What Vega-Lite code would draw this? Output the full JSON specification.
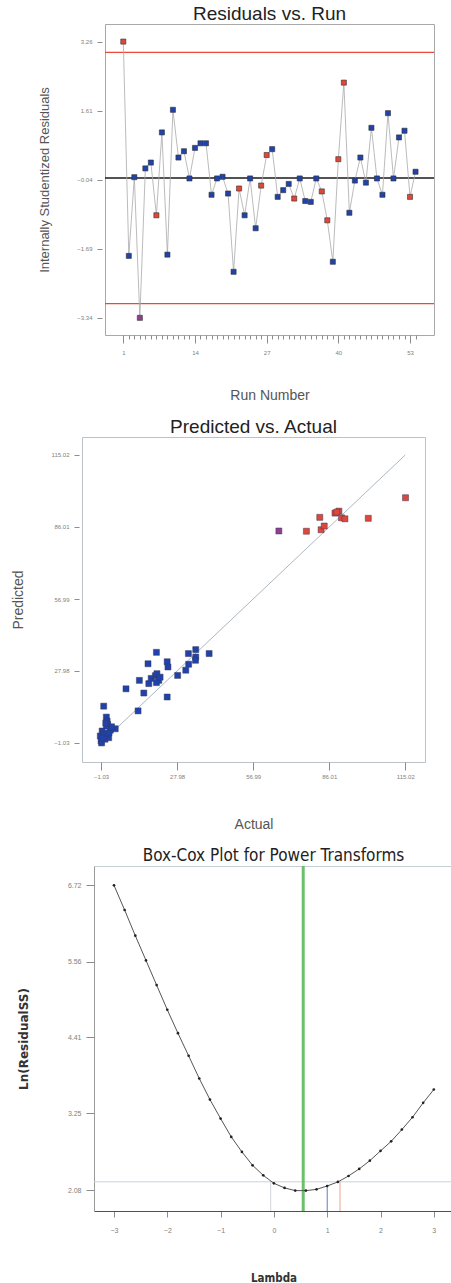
{
  "$schema": "https://vega.github.io/schema/vega-lite/v6.json",
  "padding": {"left": 0, "top": 4, "right": 0, "bottom": 0},
  "background": "white",
  "spacing": 14,
  "resolve": {"scale": {"color": "independent"}},
  "config": {
    "font": "Liberation Sans",
    "axis": {"labelFont": "Liberation Sans", "titleFont": "Liberation Sans", "grid": false, "labelColor": "#808080", "tickColor": "#8c8c8c", "titleColor": "#555555", "titleFontWeight": "normal", "minExtent": 0, "labelOverlap": false, "labelFlush": false},
    "title": {"font": "Liberation Sans", "fontWeight": "normal", "color": "#222222"}
  },
  "datasets": {
    "runs": [
      {"run": 1, "res": 3.26, "grp": "high"}, {"run": 2, "res": -1.86, "grp": "low"}, {"run": 3, "res": 0.02, "grp": "low"},
      {"run": 4, "res": -3.34, "grp": "mid"}, {"run": 5, "res": 0.23, "grp": "low"}, {"run": 6, "res": 0.37, "grp": "low"},
      {"run": 7, "res": -0.89, "grp": "high"}, {"run": 8, "res": 1.09, "grp": "low"}, {"run": 9, "res": -1.83, "grp": "low"},
      {"run": 10, "res": 1.63, "grp": "low"}, {"run": 11, "res": 0.49, "grp": "low"}, {"run": 12, "res": 0.64, "grp": "low"},
      {"run": 13, "res": -0.01, "grp": "low"}, {"run": 14, "res": 0.72, "grp": "low"}, {"run": 15, "res": 0.83, "grp": "low"},
      {"run": 16, "res": 0.83, "grp": "low"}, {"run": 17, "res": -0.40, "grp": "low"}, {"run": 18, "res": -0.01, "grp": "low"},
      {"run": 19, "res": 0.03, "grp": "low"}, {"run": 20, "res": -0.37, "grp": "low"}, {"run": 21, "res": -2.24, "grp": "low"},
      {"run": 22, "res": -0.25, "grp": "high"}, {"run": 23, "res": -0.89, "grp": "low"}, {"run": 24, "res": -0.01, "grp": "low"},
      {"run": 25, "res": -1.20, "grp": "low"}, {"run": 26, "res": -0.18, "grp": "high"}, {"run": 27, "res": 0.55, "grp": "high"},
      {"run": 28, "res": 0.69, "grp": "low"}, {"run": 29, "res": -0.45, "grp": "low"}, {"run": 30, "res": -0.29, "grp": "low"},
      {"run": 31, "res": -0.14, "grp": "low"}, {"run": 32, "res": -0.49, "grp": "high"}, {"run": 33, "res": -0.01, "grp": "low"},
      {"run": 34, "res": -0.55, "grp": "low"}, {"run": 35, "res": -0.57, "grp": "low"}, {"run": 36, "res": -0.01, "grp": "low"},
      {"run": 37, "res": -0.32, "grp": "high"}, {"run": 38, "res": -1.01, "grp": "high"}, {"run": 39, "res": -2.00, "grp": "low"},
      {"run": 40, "res": 0.45, "grp": "high"}, {"run": 41, "res": 2.28, "grp": "high"}, {"run": 42, "res": -0.83, "grp": "low"},
      {"run": 43, "res": -0.06, "grp": "low"}, {"run": 44, "res": 0.49, "grp": "low"}, {"run": 45, "res": -0.11, "grp": "low"},
      {"run": 46, "res": 1.20, "grp": "low"}, {"run": 47, "res": -0.01, "grp": "low"}, {"run": 48, "res": -0.40, "grp": "low"},
      {"run": 49, "res": 1.55, "grp": "low"}, {"run": 50, "res": -0.01, "grp": "low"}, {"run": 51, "res": 0.97, "grp": "low"},
      {"run": 52, "res": 1.13, "grp": "low"}, {"run": 53, "res": -0.45, "grp": "high"}, {"run": 54, "res": 0.15, "grp": "low"}
    ],
    "pva": [
      {"actual": 66.8, "predicted": 84.4, "grp": "mid"}, {"actual": 77.3, "predicted": 84.3, "grp": "high"},
      {"actual": 82.4, "predicted": 89.9, "grp": "high"}, {"actual": 82.9, "predicted": 84.9, "grp": "high"},
      {"actual": 84.1, "predicted": 86.4, "grp": "high"}, {"actual": 88.2, "predicted": 91.6, "grp": "high"},
      {"actual": 89.7, "predicted": 92.4, "grp": "high"}, {"actual": 88.9, "predicted": 92.0, "grp": "high"},
      {"actual": 90.7, "predicted": 89.7, "grp": "high"}, {"actual": 92.0, "predicted": 89.3, "grp": "high"},
      {"actual": 100.9, "predicted": 89.5, "grp": "high"}, {"actual": 115.1, "predicted": 97.8, "grp": "high"},
      {"actual": 20.1, "predicted": 35.5, "grp": "low"}, {"actual": 16.9, "predicted": 30.9, "grp": "low"},
      {"actual": 24.2, "predicted": 31.7, "grp": "low"}, {"actual": 24.5, "predicted": 29.6, "grp": "low"},
      {"actual": 32.3, "predicted": 35.0, "grp": "low"}, {"actual": 35.1, "predicted": 36.6, "grp": "low"},
      {"actual": 35.1, "predicted": 33.6, "grp": "low"}, {"actual": 35.0, "predicted": 32.3, "grp": "low"},
      {"actual": 40.2, "predicted": 35.0, "grp": "low"}, {"actual": 32.4, "predicted": 30.7, "grp": "low"},
      {"actual": 31.3, "predicted": 28.3, "grp": "low"}, {"actual": 28.2, "predicted": 26.2, "grp": "low"},
      {"actual": 24.2, "predicted": 17.5, "grp": "low"}, {"actual": 8.5, "predicted": 20.8, "grp": "low"},
      {"actual": 13.6, "predicted": 24.2, "grp": "low"}, {"actual": 15.3, "predicted": 19.1, "grp": "low"},
      {"actual": 17.2, "predicted": 22.9, "grp": "low"}, {"actual": 18.1, "predicted": 25.0, "grp": "low"},
      {"actual": 19.7, "predicted": 26.1, "grp": "low"}, {"actual": 20.3, "predicted": 26.9, "grp": "low"},
      {"actual": 21.0, "predicted": 24.2, "grp": "low"}, {"actual": 20.1, "predicted": 23.3, "grp": "low"},
      {"actual": 13.1, "predicted": 11.9, "grp": "low"}, {"actual": 0.0, "predicted": 13.8, "grp": "low"},
      {"actual": 1.0, "predicted": 9.4, "grp": "low"}, {"actual": 1.3, "predicted": 7.8, "grp": "low"},
      {"actual": 1.5, "predicted": 6.5, "grp": "low"}, {"actual": 4.4, "predicted": 4.7, "grp": "low"},
      {"actual": 2.5, "predicted": 4.1, "grp": "low"}, {"actual": -0.6, "predicted": 3.8, "grp": "low"},
      {"actual": -1.3, "predicted": 1.8, "grp": "low"}, {"actual": 1.9, "predicted": 1.1, "grp": "low"},
      {"actual": -1.0, "predicted": -0.2, "grp": "low"}, {"actual": 0.0, "predicted": 2.7, "grp": "low"},
      {"actual": 1.0, "predicted": 5.8, "grp": "low"}, {"actual": -0.8, "predicted": -1.0, "grp": "low"},
      {"actual": 0.5, "predicted": 0.5, "grp": "low"}, {"actual": 2.0, "predicted": 3.0, "grp": "low"},
      {"actual": -0.5, "predicted": 1.0, "grp": "low"}, {"actual": 3.0, "predicted": 5.5, "grp": "low"},
      {"actual": 0.8, "predicted": 7.0, "grp": "low"}, {"actual": 21.5, "predicted": 25.5, "grp": "low"}
    ],
    "boxcox": [
      {"lambda": -3.0, "lnss": 6.72}, {"lambda": -2.8, "lnss": 6.344}, {"lambda": -2.6, "lnss": 5.954},
      {"lambda": -2.4, "lnss": 5.578}, {"lambda": -2.2, "lnss": 5.202}, {"lambda": -2.0, "lnss": 4.827},
      {"lambda": -1.8, "lnss": 4.471}, {"lambda": -1.6, "lnss": 4.127}, {"lambda": -1.4, "lnss": 3.781},
      {"lambda": -1.2, "lnss": 3.461}, {"lambda": -1.0, "lnss": 3.172}, {"lambda": -0.8, "lnss": 2.893},
      {"lambda": -0.6, "lnss": 2.665}, {"lambda": -0.4, "lnss": 2.461}, {"lambda": -0.2, "lnss": 2.309},
      {"lambda": 0.0, "lnss": 2.187}, {"lambda": 0.2, "lnss": 2.117}, {"lambda": 0.4, "lnss": 2.076},
      {"lambda": 0.6, "lnss": 2.076}, {"lambda": 0.8, "lnss": 2.095}, {"lambda": 1.0, "lnss": 2.147},
      {"lambda": 1.2, "lnss": 2.208}, {"lambda": 1.4, "lnss": 2.299}, {"lambda": 1.6, "lnss": 2.406},
      {"lambda": 1.8, "lnss": 2.532}, {"lambda": 2.0, "lnss": 2.68}, {"lambda": 2.2, "lnss": 2.826},
      {"lambda": 2.4, "lnss": 3.004}, {"lambda": 2.6, "lnss": 3.192}, {"lambda": 2.8, "lnss": 3.411},
      {"lambda": 3.0, "lnss": 3.614}
    ]
  },
  "vconcat": [
    {"spacing": 0, "hconcat": [
      {"width": 38, "height": 1, "view": {"stroke": null}, "data": {"values": []}, "mark": "point"},
      {
      "width": 329, "height": 311,
      "view": {"stroke": "#a8a8a8"},
      "title": {"text": "Residuals vs. Run", "fontSize": 19, "offset": 0},
      "resolve": {"axis": {"x": "independent"}},
      "layer": [
        {
          "data": {"values": [{"lim": 3}, {"lim": -3}]},
          "mark": {"type": "rule", "color": "#e8493a", "strokeWidth": 1.3},
          "encoding": {
            "y": {"field": "lim", "type": "quantitative", "scale": {"domain": [-3.75, 3.68], "nice": false, "zero": false},
              "axis": {"title": "Internally Studentized Residuals", "titleFontSize": 13, "titlePadding": 25,
                "values": [-3.34, -1.69, -0.04, 1.61, 3.26], "format": ".2f", "labelFontSize": 6, "tickSize": 5, "labelPadding": 5, "offset": 3, "domain": false}}
          }
        },
        {
          "data": {"values": [{"lim": 0}]},
          "mark": {"type": "rule", "color": "#1a1a1a", "strokeWidth": 1.5},
          "encoding": {"y": {"field": "lim", "type": "quantitative", "scale": {"domain": [-3.75, 3.68], "nice": false, "zero": false}}}
        },
        {
          "data": {"name": "runs"},
          "mark": {"type": "line", "color": "#a9a9a9", "strokeWidth": 0.8},
          "encoding": {
            "x": {"field": "run", "type": "quantitative", "scale": {"domain": [-2.32, 57.35], "nice": false, "zero": false},
              "axis": {"orient": "bottom", "title": "Run Number", "titleFontSize": 14, "titlePadding": 33,
                "values": [1, 14, 27, 40, 53], "format": "d",
                "tickSize": 8, "labelFontSize": 6, "labelPadding": 6, "domain": false}},
            "y": {"field": "res", "type": "quantitative", "scale": {"domain": [-3.75, 3.68], "nice": false, "zero": false}}
          }
        },
        {
          "data": {"name": "runs"},
          "mark": {"type": "square", "size": 26, "opacity": 1, "filled": true, "stroke": "#333333", "strokeWidth": 0.6},
          "encoding": {
            "x": {"field": "run", "type": "quantitative", "scale": {"domain": [-2.32, 57.35], "nice": false, "zero": false},
              "axis": {"orient": "bottom", "title": null, "labels": false, "domain": false, "tickSize": 4,
                "values": [1,2,3,4,5,6,7,8,9,10,11,12,13,14,15,16,17,18,19,20,21,22,23,24,25,26,27,28,29,30,31,32,33,34,35,36,37,38,39,40,41,42,43,44,45,46,47,48,49,50,51,52,53,54]}},
            "y": {"field": "res", "type": "quantitative", "scale": {"domain": [-3.75, 3.68], "nice": false, "zero": false}},
            "color": {"field": "grp", "type": "nominal", "scale": {"domain": ["low", "mid", "high"], "range": ["#1f42ad", "#8e3f8f", "#e0463a"]}, "legend": null}
          }
        }
      ]
    }]},
    {"spacing": 0, "hconcat": [
      {"width": 10, "height": 1, "view": {"stroke": null}, "data": {"values": []}, "mark": "point"},
      {
      "width": 343, "height": 325,
      "view": {"stroke": "#b8c2c8"},
      "title": {"text": "Predicted vs. Actual", "fontSize": 19, "offset": 0},
      "layer": [
        {
          "data": {"values": [{"a": -1.03, "p": -1.03}, {"a": 115.02, "p": 115.02}]},
          "mark": {"type": "line", "color": "#aab8c2", "strokeWidth": 1},
          "encoding": {
            "x": {"field": "a", "type": "quantitative", "scale": {"domain": [-8.28, 122.53], "nice": false, "zero": false},
              "axis": {"title": "Actual", "titleFontSize": 14, "titlePadding": 38, "values": [-1.03, 27.98, 56.99, 86.01, 115.02], "format": ".2f",
                "labelFontSize": 6, "tickSize": 8, "labelPadding": 3, "domain": false}},
            "y": {"field": "p", "type": "quantitative", "scale": {"domain": [-8.69, 122.27], "nice": false, "zero": false},
              "axis": {"title": "Predicted", "titleFontSize": 14, "titlePadding": 25.7, "values": [-1.03, 27.98, 56.99, 86.01, 115.02], "format": ".2f",
                "labelFontSize": 6, "tickSize": 5, "labelPadding": 5, "offset": 3, "domain": false}}
          }
        },
        {
          "data": {"name": "pva"},
          "mark": {"type": "square", "size": 36, "opacity": 1, "filled": true, "stroke": "#3a3a5a", "strokeWidth": 0.5},
          "encoding": {
            "x": {"field": "actual", "type": "quantitative", "scale": {"domain": [-8.28, 122.53], "nice": false, "zero": false}},
            "y": {"field": "predicted", "type": "quantitative", "scale": {"domain": [-8.69, 122.27], "nice": false, "zero": false}},
            "color": {"field": "grp", "type": "nominal", "scale": {"domain": ["low", "mid", "high"], "range": ["#1f42ad", "#8e3f8f", "#e0463a"]}, "legend": null}
          }
        }
      ]
    }]},
    {"spacing": 0, "hconcat": [
      {"width": 17, "height": 1, "view": {"stroke": null}, "data": {"values": []}, "mark": "point"},
      {
      "width": 359, "height": 345,
      "view": {"stroke": null},
      "title": {"text": "Box-Cox Plot for Power Transforms", "font": "DejaVu Sans Condensed", "fontSize": 17, "offset": 0},
      "resolve": {"axis": {"x": "independent"}},
      "layer": [
        {
          "data": {"values": [{"h": 2.21}]},
          "mark": {"type": "rule", "color": "#c8d4dc", "strokeWidth": 1},
          "encoding": {"y": {"field": "h", "type": "quantitative", "scale": {"domain": [1.766, 7.014], "nice": false, "zero": false},
            "axis": {"title": "Ln(ResidualSS)", "titleFont": "DejaVu Sans", "titleFontWeight": "bold", "titleFontSize": 12, "titleColor": "#333333", "titlePadding": 36.6,
              "values": [2.08, 3.25, 4.41, 5.56, 6.72], "format": ".2f", "labelFontSize": 7, "tickSize": 8, "labelPadding": 5, "domain": true, "domainColor": "#9a9a9a"}}}
        },
        {
          "data": {"values": [{"lam": -0.06, "bot": 1.766, "top": 2.21, "kind": "lower"}, {"lam": 1.0, "bot": 1.766, "top": 2.147, "kind": "current"}, {"lam": 1.24, "bot": 1.766, "top": 2.21, "kind": "upper"}]},
          "mark": {"type": "rule", "strokeWidth": 1},
          "encoding": {
            "x": {"field": "lam", "type": "quantitative", "scale": {"domain": [-3.375, 3.36], "nice": false, "zero": false}, "axis": null},
            "y": {"field": "bot", "type": "quantitative", "scale": {"domain": [1.766, 7.014], "nice": false, "zero": false}},
            "y2": {"field": "top"},
            "color": {"field": "kind", "type": "nominal", "scale": {"domain": ["lower", "current", "upper"], "range": ["#d0d6dc", "#6878c4", "#f0a48c"]}, "legend": null}
          }
        },
        {
          "data": {"values": [{"best": 0.55}]},
          "mark": {"type": "rule", "color": "#6cc06c", "strokeWidth": 3},
          "encoding": {"x": {"field": "best", "type": "quantitative", "scale": {"domain": [-3.375, 3.36], "nice": false, "zero": false},
            "axis": {"orient": "top", "labels": false, "ticks": false, "title": null, "domain": true, "domainColor": "#c4d0d8"}}}
        },
        {
          "data": {"name": "boxcox"},
          "mark": {"type": "line", "color": "#555555", "strokeWidth": 1},
          "encoding": {
            "x": {"field": "lambda", "type": "quantitative", "scale": {"domain": [-3.375, 3.36], "nice": false, "zero": false},
              "axis": {"orient": "bottom", "title": "Lambda", "titleFont": "DejaVu Sans Condensed", "titleFontWeight": "bold", "titleFontSize": 11.5, "titleColor": "#333333", "titlePadding": 39,
                "values": [-3, -2, -1, 0, 1, 2, 3], "format": "d", "labelFontSize": 7, "tickSize": 6, "labelPadding": 9.5, "domain": true, "domainColor": "#505050"}},
            "y": {"field": "lnss", "type": "quantitative", "scale": {"domain": [1.766, 7.014], "nice": false, "zero": false}}
          }
        },
        {
          "data": {"name": "boxcox"},
          "mark": {"type": "circle", "size": 7, "opacity": 1, "color": "#222222"},
          "encoding": {
            "x": {"field": "lambda", "type": "quantitative", "scale": {"domain": [-3.375, 3.36], "nice": false, "zero": false}, "axis": null},
            "y": {"field": "lnss", "type": "quantitative", "scale": {"domain": [1.766, 7.014], "nice": false, "zero": false}}
          }
        }
      ]
    }]}
  ]
}
